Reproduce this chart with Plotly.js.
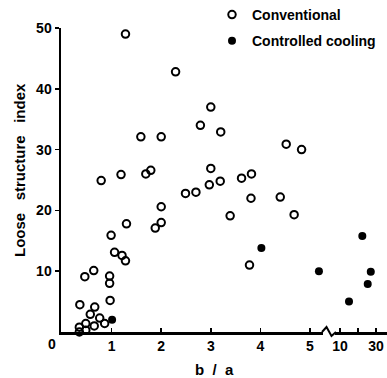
<!DOCTYPE html>
<html>
<head>
<meta charset="utf-8">
<script src="https://cdn.plot.ly/plotly-3.0.1.min.js"></script>
<style>html,body{margin:0;padding:0;background:#fff;}#chart{width:387px;height:378px;}</style>
</head>
<body>
<div id="chart"></div>
<script>
// b/a ratio and loose structure index, conventional process (open circles)
const convX = [1.28, 2.29, 3.00, 2.79, 1.59, 2.00, 3.20, 4.52, 4.83, 3.00,
               0.79, 1.19, 1.69, 1.79, 3.82, 3.62, 3.19, 2.97, 2.49, 2.70,
               3.81, 4.40, 3.39, 4.68, 2.00, 2.00, 1.88, 1.30, 0.99, 1.06,
               1.21, 1.28, 3.78, 0.46, 0.64, 0.96, 0.96, 0.97, 0.36, 0.66,
               0.57, 0.76, 0.48, 0.65, 0.86, 0.35, 0.35, 0.48];
const convY = [49.0, 42.8, 37.0, 34.0, 32.1, 32.1, 32.9, 30.9, 30.0, 26.9,
               24.9, 25.9, 26.0, 26.6, 26.0, 25.3, 24.8, 24.2, 22.8, 23.0,
               22.0, 22.2, 19.1, 19.3, 20.6, 18.0, 17.1, 17.8, 15.9, 13.1,
               12.6, 11.7, 11.0, 9.1, 10.1, 9.2, 8.0, 5.2, 4.5, 4.1,
               2.9, 2.3, 1.4, 1.0, 1.4, 0.8, 0.0, 0.3];
// controlled cooling (filled circles)
const ctrlX = [1.01, 4.02, 5.18, 15.0, 22.4, 27.1, 25.4];
const ctrlY = [2.0, 13.8, 10.0, 5.0, 15.8, 9.9, 7.9];

// axis ticks
const lowTicks = [1, 2, 3, 4, 5];
const highTicks = [10, 20, 30];
const highTickText = ['10', '', '30'];
const yTicks = [10, 20, 30, 40, 50];

const BREAK = 7; // values above this go on the broken (right) axis segment
const FONT = 'Liberation Sans, Arial, sans-serif';

const ctrlLowX = [], ctrlLowY = [], ctrlHighX = [], ctrlHighY = [];
ctrlX.forEach((v, i) => {
  if (v > BREAK) { ctrlHighX.push(v); ctrlHighY.push(ctrlY[i]); }
  else { ctrlLowX.push(v); ctrlLowY.push(ctrlY[i]); }
});

const openMarker = {symbol: 'circle-open', size: 7.5, color: '#000', line: {width: 2, color: '#000'}};
const fillMarker = {symbol: 'circle', size: 8, color: '#000'};

const traces = [
  {x: convX, y: convY, type: 'scatter', mode: 'markers', name: 'Conventional',
   marker: openMarker, xaxis: 'x', yaxis: 'y', cliponaxis: false, legendgroup: 'a'},
  {x: ctrlLowX, y: ctrlLowY, type: 'scatter', mode: 'markers', name: 'Controlled cooling',
   marker: fillMarker, xaxis: 'x', yaxis: 'y', cliponaxis: false, legendgroup: 'b'},
  {x: ctrlHighX, y: ctrlHighY, type: 'scatter', mode: 'markers', name: 'Controlled cooling',
   marker: fillMarker, xaxis: 'x2', yaxis: 'y', cliponaxis: false, showlegend: false, legendgroup: 'b'}
];

// pixel helpers for paper coordinates (plot area: x 61..387, y 28..332)
const L = 61, W = 326, T = 28, H = 304;
const px = p => (p - L) / W;
const py = p => (T + H - p) / H;

const tickFont = {family: FONT, size: 14, color: '#000', weight: 'bold'};

const layout = {
  width: 387, height: 378,
  margin: {l: L, r: 0, t: T, b: 378 - T - H, autoexpand: false},
  paper_bgcolor: '#fff', plot_bgcolor: '#fff',
  showlegend: true,
  legend: {x: px(212), y: py(-1), xanchor: 'left', yanchor: 'top',
           font: {family: FONT, size: 14, color: '#000', weight: 'bold'},
           itemwidth: 30, tracegroupgap: 5, traceorder: 'grouped', bgcolor: 'rgba(0,0,0,0)'},
  xaxis: {domain: [0, px(323)], range: [-0.02, 5.262], showgrid: false, zeroline: false,
          showline: true, linewidth: 2.5, linecolor: '#000', automargin: false,
          tickmode: 'array', tickvals: lowTicks, ticks: 'inside', ticklen: 4, tickwidth: 1.5,
          tickcolor: '#000', tickfont: tickFont},
  xaxis2: {domain: [px(335), 1], range: [7.22, 36.11], showgrid: false, zeroline: false,
           showline: true, linewidth: 2.5, linecolor: '#000', anchor: 'y', automargin: false,
           tickmode: 'array', tickvals: highTicks, ticktext: highTickText,
           ticks: 'inside', ticklen: 4, tickwidth: 1.5, tickcolor: '#000', tickfont: tickFont},
  yaxis: {range: [0, 50], showgrid: false, zeroline: false, showline: true, linewidth: 2.5,
          linecolor: '#000', tickmode: 'array', tickvals: yTicks, ticks: 'outside', ticklen: 4,
          automargin: false, tickwidth: 1.5, tickcolor: '#000', tickfont: tickFont},
  shapes: [
    {type: 'path', xref: 'paper', yref: 'paper',
     path: `M ${px(322)} ${py(332)} L ${px(326.5)} ${py(327)} L ${px(331.5)} ${py(336)} L ${px(336)} ${py(332)}`,
     line: {color: '#000', width: 2}}
  ],
  annotations: [
    {text: '0', xref: 'paper', yref: 'paper', x: px(52), y: py(344), showarrow: false,
     font: tickFont, xanchor: 'center', yanchor: 'middle'},
    {text: 'b\u00A0\u00A0/\u00A0\u00A0a', xref: 'paper', yref: 'paper', x: px(214), y: py(369),
     showarrow: false, font: {family: FONT, size: 15, color: '#000', weight: 'bold'},
     xanchor: 'center', yanchor: 'middle', borderpad: 0},
    {text: 'Loose\u00A0\u00A0\u00A0structure\u00A0\u00A0\u00A0index', xref: 'paper', yref: 'paper',
     x: px(19), y: py(170), textangle: -90, showarrow: false,
     font: {family: FONT, size: 15, color: '#000', weight: 'bold'},
     xanchor: 'center', yanchor: 'middle'}
  ]
};

Plotly.newPlot('chart', traces, layout, {displayModeBar: false, staticPlot: true});
</script>
</body>
</html>
